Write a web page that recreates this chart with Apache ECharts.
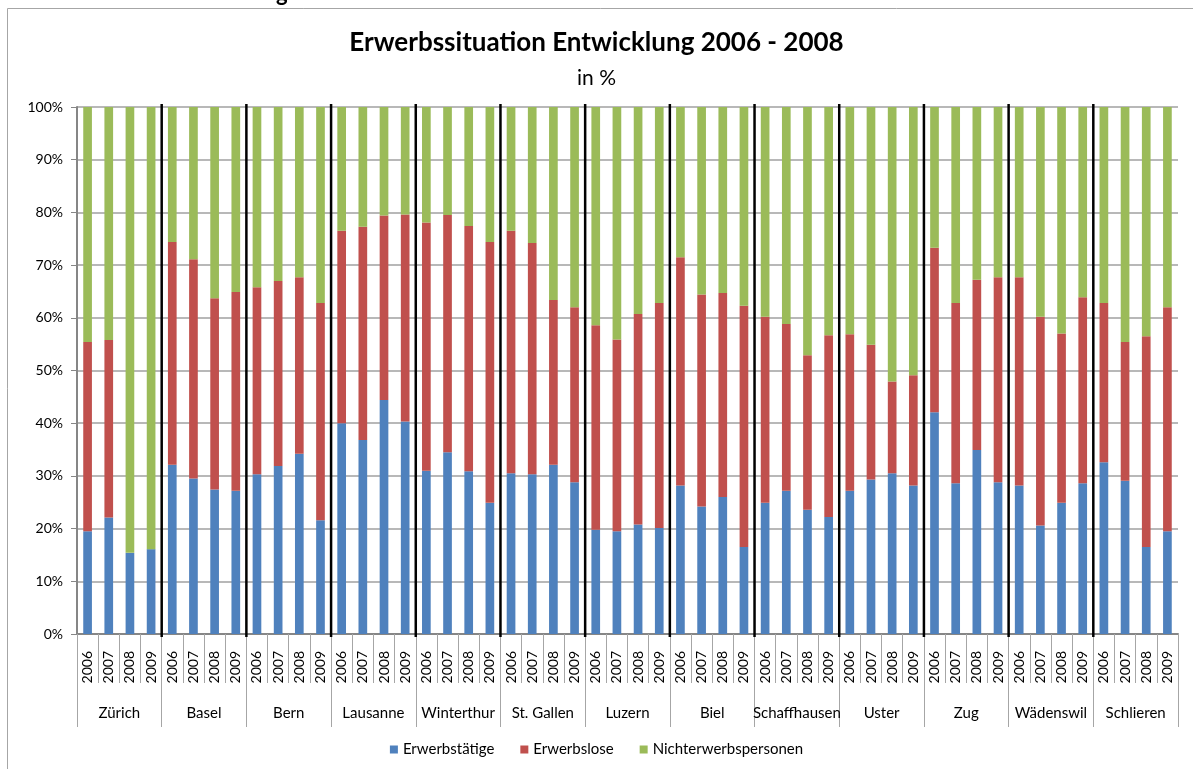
<!DOCTYPE html>
<html>
<head>
<meta charset="utf-8">
<script src="https://cdn.jsdelivr.net/npm/echarts@6/dist/echarts.min.js"></script>
<style>
  html, body { margin: 0; padding: 0; background: #fff; }
  #chart { width: 1193px; height: 769px; }
</style>
</head>
<body>
<div id="chart"></div>
<script>
// Städte und Jahre
const cities = ['Zürich', 'Basel', 'Bern', 'Lausanne', 'Winterthur', 'St. Gallen', 'Luzern', 'Biel',
    'Schaffhausen', 'Uster', 'Zug', 'Wädenswil', 'Schlieren'];
const years = ['2006', '2007', '2008', '2009'];

// Werte in %, je Stadt 4 Jahre
const erwerbstaetige = [
    19.5, 22.1, 15.4, 16.1,
    32.1, 29.5, 27.4, 27.2,
    30.3, 31.9, 34.2, 21.6,
    40.0, 36.8, 44.4, 40.3,
    31.0, 34.5, 30.9, 24.9,
    30.5, 30.3, 32.1, 28.8,
    19.8, 19.5, 20.8, 20.1,
    28.2, 24.2, 26.0, 16.5,
    24.9, 27.2, 23.6, 22.2,
    27.2, 29.3, 30.5, 28.2,
    42.1, 28.6, 34.9, 28.8,
    28.2, 20.6, 24.9, 28.6,
    32.6, 29.1, 16.5, 19.5
];
const erwerbslose = [
    35.9, 33.7, 0, 0,
    42.3, 41.6, 36.3, 37.7,
    35.5, 35.1, 33.5, 41.2,
    36.5, 40.5, 35.0, 39.3,
    47.1, 45.0, 46.5, 49.5,
    46.0, 43.9, 31.3, 33.2,
    38.8, 36.4, 39.9, 42.7,
    43.3, 40.2, 38.7, 45.8,
    35.3, 31.6, 29.3, 34.5,
    29.7, 25.6, 17.4, 20.9,
    31.2, 34.2, 32.3, 38.9,
    39.5, 39.6, 32.1, 35.3,
    30.2, 26.3, 40.0, 42.5
];
const nichterwerbspersonen = [
    44.6, 44.2, 84.6, 83.9,
    25.6, 28.9, 36.3, 35.1,
    34.2, 33.0, 32.3, 37.2,
    23.5, 22.7, 20.6, 20.4,
    21.9, 20.5, 22.6, 25.6,
    23.5, 25.8, 36.6, 38.0,
    41.4, 44.1, 39.3, 37.2,
    28.5, 35.6, 35.3, 37.7,
    39.8, 41.2, 47.1, 43.3,
    43.1, 45.1, 52.1, 50.9,
    26.7, 37.2, 32.8, 32.3,
    32.3, 39.8, 43.0, 36.1,
    37.2, 44.6, 43.5, 38.0
];
const yTicks = [0, 10, 20, 30, 40, 50, 60, 70, 80, 90, 100];

// Kategorien: jede Stadt mit allen Jahren
const categories = cities.flatMap(() => years);
// Trennlinien zwischen den Städten (Grenzen der Kategorien)
const separators = cities.slice(1).map((c, i) => [(i + 1) * years.length]);

const font = 'Lato, "Liberation Sans", sans-serif';
const chart = echarts.init(document.getElementById('chart'));

const option = {
    animation: false,
    textStyle: { fontFamily: font, color: '#000' },
    title: [
        {
            text: 'Erwerbssituation Entwicklung 2006 - 2008',
            left: 'center',
            top: 25,
            textStyle: { fontSize: 26, fontWeight: 'bold', color: '#000', fontFamily: font }
        },
        {
            text: 'in %',
            left: 'center',
            top: 63,
            textStyle: { fontSize: 21, fontWeight: 'normal', color: '#000', fontFamily: font }
        }
    ],
    graphic: [
        {
            type: 'polyline',
            shape: { points: [[7.5, 769], [7.5, 8.5], [1193, 8.5]] },
            style: { stroke: '#a6a6a6', lineWidth: 1, fill: null },
            silent: true
        },
        {
            type: 'text',
            left: 276,
            top: -17,
            style: { text: 'g', fontSize: 22, fontWeight: 'bold', fill: '#000', fontFamily: font },
            silent: true
        }
    ],
    legend: {
        bottom: 7,
        left: 'center',
        icon: 'rect',
        itemWidth: 8,
        itemHeight: 8,
        itemGap: 26,
        textStyle: { fontSize: 15, color: '#000', fontFamily: font },
        data: ['Erwerbstätige', 'Erwerbslose', 'Nichterwerbspersonen']
    },
    grid: { left: 77, right: 15, top: 107, bottom: 135 },
    xAxis: [
        {
            type: 'category',
            data: categories,
            axisLine: { lineStyle: { color: '#868686', width: 2 } },
            axisTick: { show: true, interval: 0, length: 49, lineStyle: { color: '#a6a6a6' } },
            axisLabel: { interval: 0, rotate: 90, margin: 17, fontSize: 14, color: '#000' },
            splitLine: { show: false }
        },
        {
            type: 'category',
            position: 'bottom',
            data: cities,
            axisLine: { show: false },
            axisTick: { show: true, interval: 0, length: 93, lineStyle: { color: '#a6a6a6' } },
            axisLabel: { interval: 0, margin: 72, fontSize: 15, color: '#000' },
            splitLine: { show: false }
        },
        {
            type: 'value',
            min: 0,
            max: categories.length,
            show: false
        }
    ],
    yAxis: {
        type: 'value',
        min: yTicks[0],
        max: yTicks[yTicks.length - 1],
        interval: 10,
        axisLine: { show: true, lineStyle: { color: '#868686', width: 2 } },
        axisTick: { show: true, length: 6, lineStyle: { color: '#868686' } },
        axisLabel: { formatter: '{value}%', fontSize: 14, margin: 14, color: '#000' },
        splitLine: { lineStyle: { color: '#a0a0a0', width: 1.5 } }
    },
    series: [
        {
            name: 'Erwerbstätige',
            type: 'bar',
            stack: 'total',
            barWidth: '41%',
            xAxisIndex: 0,
            itemStyle: { color: '#4F81BD' },
            data: erwerbstaetige
        },
        {
            name: 'Erwerbslose',
            type: 'bar',
            stack: 'total',
            barWidth: '41%',
            xAxisIndex: 0,
            itemStyle: { color: '#C0504D' },
            data: erwerbslose
        },
        {
            name: 'Nichterwerbspersonen',
            type: 'bar',
            stack: 'total',
            barWidth: '41%',
            xAxisIndex: 0,
            itemStyle: { color: '#9BBB59' },
            data: nichterwerbspersonen
        },
        {
            // schwarze Trennlinien zwischen den Städten
            type: 'custom',
            xAxisIndex: 2,
            silent: true,
            z: 5,
            data: separators,
            renderItem: (params, api) => {
                const top = api.coord([api.value(0), 100]);
                const bottom = api.coord([api.value(0), 0]);
                return {
                    type: 'line',
                    shape: { x1: top[0], y1: top[1] - 3, x2: bottom[0], y2: bottom[1] + 3 },
                    style: { stroke: '#000', lineWidth: 2.5 }
                };
            }
        }
    ]
};

chart.setOption(option);
</script>
</body>
</html>
